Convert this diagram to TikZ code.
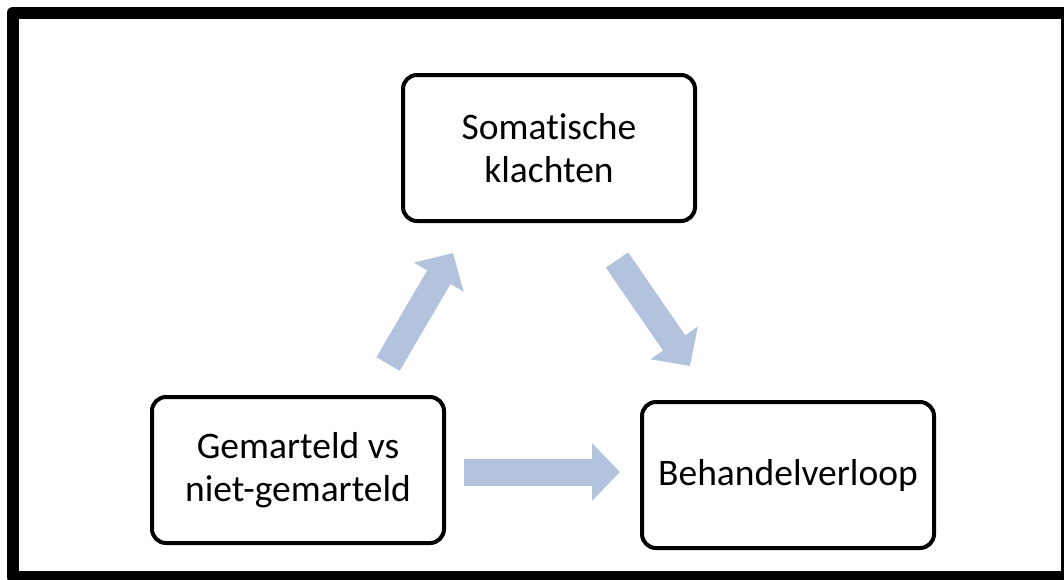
\documentclass[tikz,border=0pt]{standalone}
\usepackage{fontspec}
\setmainfont{Carlito}[Ligatures=NoCommon]
\usetikzlibrary{arrows.meta,calc}
\definecolor{arrblue}{HTML}{B3C3DE}

\begin{document}
\begin{tikzpicture}[x=1pt, y=-1pt,
  box/.style={draw, line width=4pt, rounded corners=14pt, align=center, fill=white,
    minimum width=292pt, minimum height=146pt, inner sep=3pt,
    font=\fontsize{37.5}{43}\selectfont},
  bigarr/.style={arrblue, line width=27pt, -{Triangle[length=28pt, width=56pt]}}]
  \useasboundingbox (0,0) rectangle (1064,579);
  \clip (0,0) rectangle (1064,579);
  \draw[line width=12pt, line join=round] (13,12.5) rectangle (1067,577);
  \node[box] (som) at (549,148) {Somatische\\klachten};
  \node[box] (gem) at (298,470) {Gemarteld vs\\niet-gemarteld};
  \node[box] (beh) at (788,475) {Behandelverloop};
  \draw[bigarr] ($(gem.north)+(90,-31)$) -- ($(som.south)+(-96,30)$);
  \draw[bigarr] ($(som.south)+(68,37)$) -- ($(beh.north)+(-98,-34)$);
  \draw[bigarr] ($(gem.east)+(18,2)$) -- ($(beh.west)+(-20,-3)$);
\end{tikzpicture}
\end{document}
